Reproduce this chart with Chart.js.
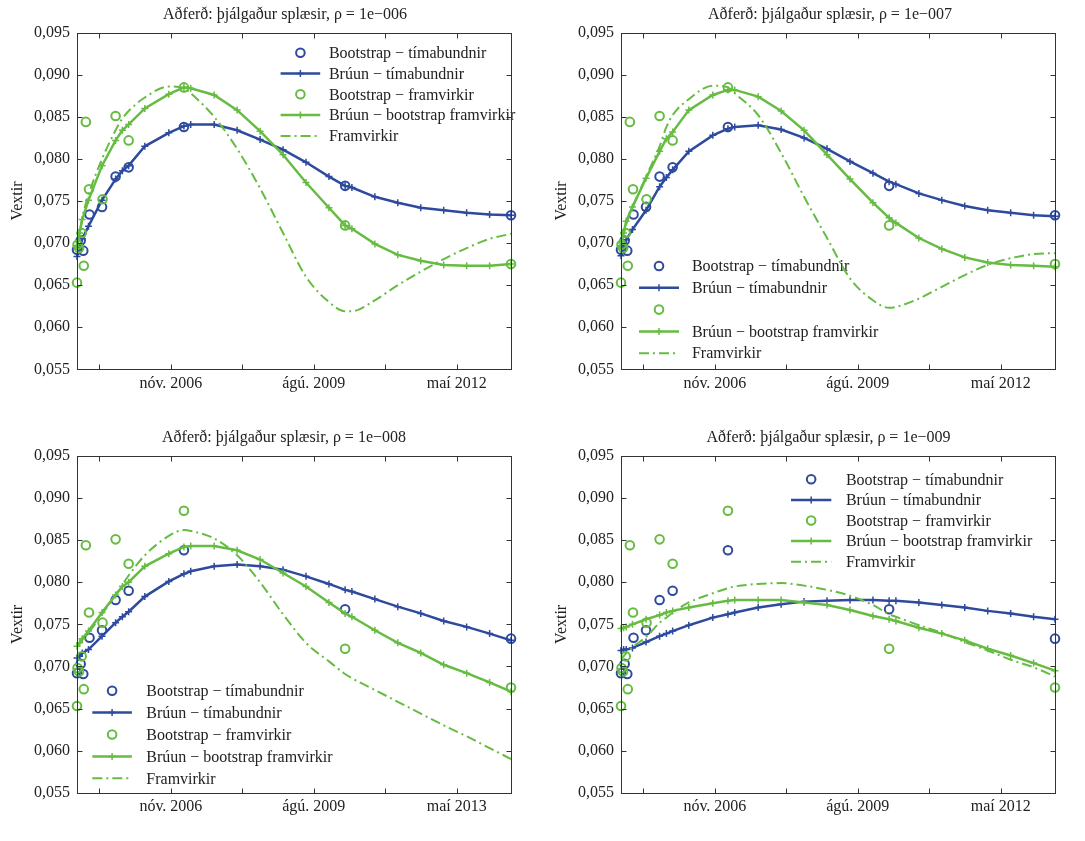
<!DOCTYPE html>
<html>
<head>
<meta charset="utf-8">
<script src="https://cdn.jsdelivr.net/npm/chart.js@4.4.1/dist/chart.umd.min.js"></script>
<style>
  html, body { margin: 0; padding: 0; background: #fff; }
  #wrap { position: relative; width: 1085px; height: 841px; }
  .panel { position: absolute; }
  canvas { display: block; }
</style>
</head>
<body>
<div id="wrap">
  <div class="panel" style="left:0;top:0"><canvas id="c1" width="540" height="420"></canvas></div>
  <div class="panel" style="left:540px;top:0"><canvas id="c2" width="545" height="420"></canvas></div>
  <div class="panel" style="left:0;top:420px"><canvas id="c3" width="540" height="421"></canvas></div>
  <div class="panel" style="left:540px;top:420px"><canvas id="c4" width="545" height="421"></canvas></div>
</div>
<script>
// x-ás í árum (tugabrot), y-ás vextir
const xMin = 2005.08;
const xMax = 2013.40;
const xTickVals = [2005.51, 2006.88, 2008.25, 2009.62, 2010.99, 2012.36];
const xTickLabels = ["", "nóv. 2006", "", "ágú. 2009", "", "maí 2012"];
const xTickLabels3 = ["", "nóv. 2006", "", "ágú. 2009", "", "maí 2013"];
const yTickVals = [0.055, 0.060, 0.065, 0.070, 0.075, 0.080, 0.085, 0.090, 0.095];

const titles = [
  "Aðferð: þjálgaður splæsir, ρ = 1e−006",
  "Aðferð: þjálgaður splæsir, ρ = 1e−007",
  "Aðferð: þjálgaður splæsir, ρ = 1e−008",
  "Aðferð: þjálgaður splæsir, ρ = 1e−009",
];
const seriesNames = [
  "Bootstrap − tímabundnir",
  "Brúun − tímabundnir",
  "Bootstrap − framvirkir",
  "Brúun − bootstrap framvirkir",
  "Framvirkir",
];

// bootstrap punktar (eins í öllum myndum)
const bsDatesT = [2005.08, 2005.15, 2005.20, 2005.32, 2005.56, 2005.82, 2006.07, 2007.13, 2010.22, 2013.40];
const bsTima = [0.0692, 0.0703, 0.0691, 0.0734, 0.0743, 0.0779, 0.0790, 0.0838, 0.0768, 0.0733];
const bsDatesF = [2005.08, 2005.09, 2005.12, 2005.17, 2005.21, 2005.25, 2005.31, 2005.57, 2005.82, 2006.07, 2007.13, 2010.22, 2013.40];
const bsFram = [0.0653, 0.0698, 0.0694, 0.0712, 0.0673, 0.0844, 0.0764, 0.0752, 0.0851, 0.0822, 0.0885, 0.0721, 0.0675];

// dagsetningar brúaðra ferla
const lineDates = [2005.08, 2005.13, 2005.18, 2005.30, 2005.56, 2005.82, 2005.95, 2006.07, 2006.38, 2006.84,
  2007.13, 2007.26, 2007.71, 2008.15, 2008.59, 2009.03, 2009.47, 2009.91, 2010.22, 2010.35,
  2010.79, 2011.23, 2011.67, 2012.11, 2012.55, 2012.99, 2013.40];

// rho = 1e-006
const p1Tima = [0.0684, 0.0694, 0.0705, 0.0720, 0.0751, 0.0776, 0.0786, 0.0792, 0.0815, 0.0831,
  0.0839, 0.0841, 0.0841, 0.0834, 0.0823, 0.0811, 0.0796, 0.0779, 0.0768, 0.0766,
  0.0755, 0.0748, 0.0742, 0.0739, 0.0736, 0.0734, 0.0733];
const p1Fram = [0.0696, 0.0712, 0.0728, 0.0751, 0.0792, 0.0822, 0.0834, 0.0841, 0.0860, 0.0877,
  0.0885, 0.0884, 0.0876, 0.0858, 0.0833, 0.0805, 0.0772, 0.0742, 0.0721, 0.0717,
  0.0699, 0.0686, 0.0679, 0.0674, 0.0673, 0.0673, 0.0675];
const p1Fwd = [0.0695, 0.0712, 0.0730, 0.0757, 0.0800, 0.0834, 0.0848, 0.0857, 0.0873, 0.0886,
  0.0884, 0.0878, 0.0850, 0.0812, 0.0765, 0.0712, 0.0660, 0.0630, 0.0619, 0.0619,
  0.0632, 0.0650, 0.0666, 0.0681, 0.0694, 0.0705, 0.0711];

// rho = 1e-007
const p2Tima = [0.0685, 0.0694, 0.0704, 0.0716, 0.0739, 0.0767, 0.0778, 0.0787, 0.0809, 0.0828,
  0.0836, 0.0838, 0.0840, 0.0835, 0.0825, 0.0812, 0.0797, 0.0783, 0.0773, 0.0770,
  0.0759, 0.0751, 0.0744, 0.0739, 0.0736, 0.0733, 0.0732];
const p2Fram = [0.0700, 0.0712, 0.0726, 0.0743, 0.0777, 0.0809, 0.0824, 0.0832, 0.0858, 0.0876,
  0.0882, 0.0882, 0.0874, 0.0857, 0.0834, 0.0805, 0.0776, 0.0748, 0.0730, 0.0724,
  0.0706, 0.0693, 0.0683, 0.0677, 0.0674, 0.0673, 0.0672];
const p2Fwd = [0.0698, 0.0710, 0.0722, 0.0742, 0.0779, 0.0815, 0.0838, 0.0852, 0.0871, 0.0887,
  0.0885, 0.0878, 0.0852, 0.0807, 0.0755, 0.0706, 0.0658, 0.0632, 0.0623, 0.0624,
  0.0634, 0.0648, 0.0662, 0.0674, 0.0682, 0.0687, 0.0688];

// rho = 1e-008
const p3Tima = [0.0710, 0.0712, 0.0716, 0.0720, 0.0736, 0.0752, 0.0759, 0.0765, 0.0783, 0.0801,
  0.0810, 0.0813, 0.0819, 0.0821, 0.0819, 0.0815, 0.0807, 0.0798, 0.0791, 0.0789,
  0.0780, 0.0771, 0.0763, 0.0754, 0.0747, 0.0739, 0.0731];
const p3Fram = [0.0724, 0.0728, 0.0733, 0.0742, 0.0764, 0.0785, 0.0795, 0.0800, 0.0819, 0.0834,
  0.0842, 0.0843, 0.0843, 0.0838, 0.0827, 0.0811, 0.0795, 0.0776, 0.0763, 0.0759,
  0.0743, 0.0728, 0.0716, 0.0702, 0.0692, 0.0681, 0.0670];
const p3Fwd = [0.0723, 0.0727, 0.0731, 0.0740, 0.0762, 0.0785, 0.0797, 0.0808, 0.0832, 0.0855,
  0.0862, 0.0861, 0.0852, 0.0832, 0.0800, 0.0762, 0.0728, 0.0706, 0.0691, 0.0686,
  0.0672, 0.0658, 0.0644, 0.0630, 0.0617, 0.0603, 0.0590];

// rho = 1e-009
const p4Tima = [0.0719, 0.0720, 0.0720, 0.0722, 0.0729, 0.0736, 0.0739, 0.0742, 0.0749, 0.0758,
  0.0762, 0.0764, 0.0770, 0.0774, 0.0777, 0.0778, 0.0779, 0.0779, 0.0778, 0.0778,
  0.0776, 0.0773, 0.0770, 0.0766, 0.0763, 0.0759, 0.0756];
const p4Fram = [0.0745, 0.0746, 0.0747, 0.0750, 0.0756, 0.0761, 0.0764, 0.0766, 0.0770, 0.0775,
  0.0778, 0.0779, 0.0779, 0.0779, 0.0776, 0.0773, 0.0767, 0.0760, 0.0756, 0.0754,
  0.0746, 0.0739, 0.0731, 0.0721, 0.0713, 0.0704, 0.0695];
const p4Fwd = [0.0708, 0.0712, 0.0716, 0.0723, 0.0735, 0.0752, 0.0758, 0.0764, 0.0776, 0.0787,
  0.0793, 0.0795, 0.0798, 0.0799, 0.0796, 0.0791, 0.0784, 0.0773, 0.0762, 0.0759,
  0.0749, 0.0740, 0.0729, 0.0719, 0.0708, 0.0699, 0.0688];

const BLUE = "#2e4a9e";
const GREEN = "#66bc42";
const TEXT = "#222";
const FONT = '"Liberation Serif", "Times New Roman", serif';

Chart.defaults.font.family = FONT;
Chart.defaults.font.size = 16;
Chart.defaults.color = TEXT;

function pts(xs, ys) {
  return xs.map((x, i) => ({ x: x, y: ys[i] }));
}

// ramminn, innvísandi strik, titill og skýringar
const matlabFrame = {
  id: "matlabFrame",
  beforeDatasetsDraw(chart, args, o) {
    const ctx = chart.ctx;
    ctx.save();
    ctx.font = "16px " + FONT;
    ctx.textBaseline = "middle";
    ctx.textAlign = "left";
    o.legendLabels.forEach((lab, i) => {
      const y = o.legY + i * o.legDy;
      const ds = chart.data.datasets[i];
      const xc = (o.legX0 + o.legX1) / 2;
      if (ds.showLine) {
        ctx.strokeStyle = ds.borderColor;
        ctx.lineWidth = ds.borderWidth;
        ctx.setLineDash(ds.borderDash || []);
        ctx.beginPath();
        ctx.moveTo(o.legX0, y);
        ctx.lineTo(o.legX1, y);
        ctx.stroke();
        ctx.setLineDash([]);
      }
      if (ds.pointRadius > 0) {
        ctx.strokeStyle = ds.pointBorderColor;
        ctx.lineWidth = ds.pointBorderWidth;
        ctx.beginPath();
        if (ds.pointStyle === "circle") {
          ctx.arc(xc, y, ds.pointRadius, 0, Math.PI * 2);
        } else {
          ctx.moveTo(xc - ds.pointRadius, y); ctx.lineTo(xc + ds.pointRadius, y);
          ctx.moveTo(xc, y - ds.pointRadius); ctx.lineTo(xc, y + ds.pointRadius);
        }
        ctx.stroke();
      }
      ctx.fillStyle = TEXT;
      if (lab) ctx.fillText(lab, o.legText, y + 1);
    });
    ctx.restore();
  },
  afterDraw(chart, args, o) {
    const { ctx, chartArea: a, scales } = chart;
    ctx.save();
    ctx.strokeStyle = "#333";
    ctx.lineWidth = 1;
    const L = Math.round(a.left) + 0.5, R = Math.round(a.right) + 0.5;
    const T = Math.round(a.top) + 0.5, B = Math.round(a.bottom) + 0.5;
    ctx.strokeRect(L, T, R - L, B - T);
    ctx.beginPath();
    xTickVals.forEach((v) => {
      const px = Math.round(scales.x.getPixelForValue(v)) + 0.5;
      ctx.moveTo(px, B); ctx.lineTo(px, B - 5);
      ctx.moveTo(px, T); ctx.lineTo(px, T + 5);
    });
    yTickVals.forEach((v) => {
      const py = Math.round(scales.y.getPixelForValue(v)) + 0.5;
      ctx.moveTo(L, py); ctx.lineTo(L + 5, py);
      ctx.moveTo(R, py); ctx.lineTo(R - 5, py);
    });
    ctx.stroke();
    ctx.fillStyle = TEXT;
    ctx.font = "16px " + FONT;
    ctx.textAlign = "center";
    ctx.textBaseline = "middle";
    ctx.fillText(o.title, o.titleX, o.titleY);
    ctx.restore();
  },
};

function makePanel(id, p) {
  const datasets = [
    {
      label: seriesNames[0], data: pts(bsDatesT, bsTima), showLine: false,
      pointStyle: "circle", pointRadius: 4.3, pointBorderWidth: 2,
      pointBorderColor: BLUE, pointBackgroundColor: "rgba(0,0,0,0)", order: 4, clip: false,
    },
    {
      label: seriesNames[1], data: pts(lineDates, p.tima), showLine: true,
      borderColor: BLUE, borderWidth: 2.5, tension: 0,
      pointStyle: "cross", pointRadius: 3.5, pointBorderWidth: 1.5,
      pointBorderColor: BLUE, pointBackgroundColor: BLUE, order: 3, clip: false,
    },
    {
      label: seriesNames[2], data: pts(bsDatesF, bsFram), showLine: false,
      pointStyle: "circle", pointRadius: 4.3, pointBorderWidth: 2,
      pointBorderColor: GREEN, pointBackgroundColor: "rgba(0,0,0,0)", order: 2, clip: false,
    },
    {
      label: seriesNames[3], data: pts(lineDates, p.fram), showLine: true,
      borderColor: GREEN, borderWidth: 2.5, tension: 0,
      pointStyle: "cross", pointRadius: 3.5, pointBorderWidth: 1.5,
      pointBorderColor: GREEN, pointBackgroundColor: GREEN, order: 1, clip: false,
    },
    {
      label: seriesNames[4], data: pts(lineDates, p.fwd), showLine: true,
      borderColor: GREEN, borderWidth: 2, borderDash: [10, 4, 2, 4],
      cubicInterpolationMode: "monotone", pointRadius: 0, order: 0, clip: false,
    },
  ];

  new Chart(document.getElementById(id), {
    type: "scatter",
    data: { datasets: datasets },
    options: {
      responsive: false,
      animation: false,
      events: [],
      layout: { padding: { left: 0, top: p.top, right: p.padRight, bottom: 0 } },
      plugins: {
        legend: { display: false },
        tooltip: { enabled: false },
        matlabFrame: {
          title: p.title, titleX: p.titleX, titleY: p.titleY,
          legendLabels: p.legendLabels,
          legX0: p.legX0, legX1: p.legX1, legText: p.legText, legY: p.legY, legDy: p.legDy,
        },
      },
      scales: {
        x: {
          type: "linear",
          min: xMin,
          max: xMax,
          grid: { display: false, drawTicks: false },
          border: { display: false },
          afterBuildTicks: (s) => { s.ticks = xTickVals.map((v) => ({ value: v })); },
          afterFit: (s) => { s.height = p.xH; },
          ticks: {
            autoSkip: false, maxRotation: 0, padding: 4.5,
            callback: (v, i) => p.xLabels[i],
          },
        },
        y: {
          min: 0.055,
          max: 0.095,
          grid: { display: false, drawTicks: false },
          border: { display: false },
          afterBuildTicks: (s) => { s.ticks = yTickVals.map((v) => ({ value: v })); },
          afterFit: (s) => { s.width = p.yW; },
          ticks: {
            padding: 7,
            callback: (v) => v.toFixed(3).replace(".", ","),
          },
          title: { display: true, text: "Vextir", padding: { top: p.yTitlePad, bottom: 0 } },
        },
      },
    },
    plugins: [matlabFrame],
  });
}

const fullLegend = seriesNames.slice();
const legend2 = [seriesNames[0], seriesNames[1], "", seriesNames[3], seriesNames[4]];

makePanel("c1", {
  tima: p1Tima, fram: p1Fram, fwd: p1Fwd, xLabels: xTickLabels,
  top: 32.7, padRight: 29, xH: 50.7, yW: 77, yTitlePad: 8.4,
  title: titles[0], titleX: 285, titleY: 15,
  legendLabels: fullLegend, legX0: 280.6, legX1: 320.2, legText: 328.9, legY: 52.7, legDy: 20.8,
});
makePanel("c2", {
  tima: p2Tima, fram: p2Fram, fwd: p2Fwd, xLabels: xTickLabels,
  top: 32.7, padRight: 30, xH: 50.7, yW: 81, yTitlePad: 12.1,
  title: titles[1], titleX: 290, titleY: 15,
  legendLabels: legend2, legX0: 99, legX1: 139, legText: 151.9, legY: 266, legDy: 21.8,
});
makePanel("c3", {
  tima: p3Tima, fram: p3Fram, fwd: p3Fwd, xLabels: xTickLabels3,
  top: 36, padRight: 29, xH: 48.3, yW: 77, yTitlePad: 8.4,
  title: titles[2], titleX: 284, titleY: 17.5,
  legendLabels: fullLegend, legX0: 92.3, legX1: 131.9, legText: 146.3, legY: 270.7, legDy: 21.9,
});
makePanel("c4", {
  tima: p4Tima, fram: p4Fram, fwd: p4Fwd, xLabels: xTickLabels,
  top: 36, padRight: 30, xH: 48.3, yW: 81, yTitlePad: 12.1,
  title: titles[3], titleX: 288.5, titleY: 17.5,
  legendLabels: fullLegend, legX0: 251, legX1: 291.3, legText: 305.9, legY: 59.3, legDy: 20.6,
});
</script>
</body>
</html>
